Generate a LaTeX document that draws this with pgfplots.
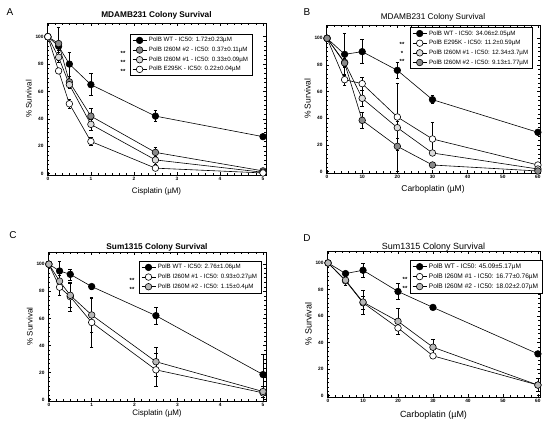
\documentclass[border=0pt]{standalone}
\usepackage{fontspec}
\setmainfont{Liberation Sans}
\usepackage{pgfplots}
\pgfplotsset{compat=1.18}
\definecolor{gA}{HTML}{8A8A8A}
\definecolor{lA}{HTML}{DCDCDC}
\definecolor{gC}{HTML}{B8B8B8}
\pgfplotsset{
  ser/.style={black, line width=0.6bp, mark=*, mark size=3.3bp,
      mark options={fill=#1, draw=black, line width=0.6bp, solid},
      error bars/.cd, y dir=both, y explicit,
      error mark options={rotate=90, mark size=1.8bp, line width=0.5bp, black},
      error bar style={line width=0.5bp, black}},
  panel/.style={
    scale only axis,
    anchor=south west,
    axis line style={line width=0.7bp},
    every tick/.style={black, line width=0.5bp},
    tick align=inside,
    major tick length=3bp, minor tick length=1.6bp,
    ytick={0,20,40,60,80,100},
    minor y tick num=5, minor x tick num=5,
    tick label style={font=\fontsize{4.8}{5.5}\selectfont\bfseries},
    xticklabel style={yshift=1bp},
    /pgf/number format/assume math mode=true,
    ylabel={\% Survival},
    label style={font=\fontsize{8}{9}\selectfont},
    xlabel style={yshift=0bp},
    ylabel style={yshift=-3bp},
    title style={font=\fontsize{8.3}{9}\selectfont, yshift=-6bp},
    legend cell align=left,
    legend style={font=\fontsize{6.2}{7}\selectfont, draw=black, line width=0.6bp,
      inner xsep=2bp, inner ysep=1.2bp, row sep=-0.3bp, anchor=north west},
    legend image code/.code={\draw[mark repeat=2,mark phase=2,##1] plot coordinates {(0bp,0bp) (7bp,0bp) (14bp,0bp)};},
  }
}
\begin{document}
\begin{tikzpicture}
\path[use as bounding box] (0,0) rectangle (550bp,426bp);
% ---------- A ----------
\begin{axis}[panel, at={(47bp,251bp)}, width=219bp, height=152bp,
  xmin=-0.02, xmax=5.07, ymin=-1, ymax=110, xtick={0,1,2,3,4,5},
  title={MDAMB231 Colony Survival}, xlabel={Cisplatin (µM)},
  title style={font=\fontsize{8.3}{9}\selectfont\bfseries},
  legend style={at={(0.379,0.928)}}]
\addplot[ser=black] coordinates {(0,100)+-(0,0) (0.25,93)+-(0,3) (0.5,80)+-(0,9) (1,65)+-(0,8) (2.5,42)+-(0,4) (5,27)+-(0,1)};
\addlegendentry{PolB WT - IC50: 1.72±0.23µM}
\addplot[ser=gA] coordinates {(0,100)+-(0,0) (0.25,95)+-(0,12) (0.5,67)+-(0,4) (1,42)+-(0,6) (2.5,15.5)+-(0,4) (5,2)+-(0,1)};
\addlegendentry{PolB I260M \#2 - IC50: 0.37±0.11µM}
\addplot[ser=lA] coordinates {(0,100)+-(0,0) (0.25,85)+-(0,4) (0.5,65)+-(0,3) (1,36)+-(0,4) (2.5,10)+-(0,3) (5,1)+-(0,0.5)};
\addlegendentry{PolB I260M \#1 - IC50: 0.33±0.09µM}
\addplot[ser=white] coordinates {(0,100)+-(0,0) (0.25,75)+-(0,2) (0.5,51)+-(0,3) (1,23.5)+-(0,3) (2.5,4)+-(0,1) (5,0.5)+-(0,0.5)};
\addlegendentry{PolB E295K - IC50: 0.22±0.04µM}
\end{axis}
% ---------- B ----------
\begin{axis}[panel, at={(326bp,253bp)}, width=214bp, height=148bp,
  xmin=-0.3, xmax=60.6, ymin=-1, ymax=110, xtick={0,10,20,30,40,50,60},
  minor x tick num=4,
  title={MDAMB231 Colony Survival}, xlabel={Carboplatin (µM)},
  label style={font=\fontsize{8.5}{9.5}\selectfont},
  legend style={at={(0.393,0.986)}}]
\addplot[ser=black] coordinates {(0,100)+-(0,0) (5,88)+-(0,16) (10,90)+-(0,9) (20,76)+-(0,6) (30,54)+-(0,3) (60,29.5)+-(0,1)};
\addlegendentry{PolB WT - IC50: 34.06±2.05µM}
\addplot[ser=white] coordinates {(0,100)+-(0,0) (5,69)+-(0,4) (10,66)+-(0,5) (20,41)+-(0,25) (30,24.5)+-(0,12.5) (60,5)+-(0,1)};
\addlegendentry{PolB E295K - IC50: 11.2±0.59µM}
\addplot[ser=lA] coordinates {(0,100)+-(0,0) (5,82)+-(0,3) (10,55)+-(0,6) (20,33)+-(0,8) (30,14)+-(0,2) (60,2)+-(0,1)};
\addlegendentry{PolB I260M \#1 - IC50: 12.34±3.7µM}
\addplot[ser=gA] coordinates {(0,100)+-(0,0) (5,81.5)+-(0,3) (10,38.5)+-(0,6) (20,19)+-(0,19) (30,5)+-(0,1) (60,0.5)+-(0,0.5)};
\addlegendentry{PolB I260M \#2 - IC50: 9.13±1.77µM}
\end{axis}
% ---------- C ----------
\begin{axis}[panel, at={(48bp,25bp)}, width=218bp, height=149bp,
  xmin=-0.02, xmax=5.07, ymin=-1, ymax=109, xtick={0,1,2,3,4,5},
  title={Sum1315 Colony Survival}, xlabel={Cisplatin (µM)},
  title style={font=\fontsize{8.3}{9}\selectfont\bfseries, yshift=-3bp},
  xlabel style={yshift=4bp},
  legend style={at={(0.417,0.94)}}]
\addplot[ser=black] coordinates {(0,100)+-(0,0) (0.25,95)+-(0,7) (0.5,92.5)+-(0,4) (1,83.5)+-(0,2) (2.5,62)+-(0,6) (5,18.5)+-(0,15)};
\addlegendentry{PolB WT - IC50: 2.76±1.06µM}
\addplot[ser=white] coordinates {(0,100)+-(0,0) (0.25,83)+-(0,6) (0.5,76)+-(0,11) (1,57)+-(0,18) (2.5,22)+-(0,12) (5,5)+-(0,2)};
\addlegendentry{PolB I260M \#1 - IC50: 0.93±0.27µM}
\addplot[ser=gC] coordinates {(0,100)+-(0,0) (0.25,87.5)+-(0,4) (0.5,77)+-(0,9) (1,62.5)+-(0,13) (2.5,28)+-(0,11) (5,6)+-(0,4)};
\addlegendentry{PolB I260M \#2 - IC50: 1.15±0.4µM}
\end{axis}
% ---------- D ----------
\begin{axis}[panel, at={(327bp,29bp)}, width=213bp, height=146bp,
  xmin=-0.3, xmax=60.6, ymin=-1, ymax=109, xtick={0,10,20,30,40,50,60},
  minor x tick num=4,
  title={Sum1315 Colony Survival}, xlabel={Carboplatin (µM)},
  title style={font=\fontsize{9}{10}\selectfont, yshift=-4bp},
  label style={font=\fontsize{9}{10}\selectfont},
  xlabel style={yshift=-1bp},
  legend style={at={(0.39,0.938)}, font=\fontsize{6.6}{7.5}\selectfont}]
\addplot[ser=black] coordinates {(0,100)+-(0,0) (5,92)+-(0,2) (10,94.5)+-(0,5) (20,78.5)+-(0,6) (30,66.5)+-(0,1) (60,31.5)+-(0,2)};
\addlegendentry{PolB WT - IC50: 45.09±5.17µM}
\addplot[ser=white] coordinates {(0,100)+-(0,0) (5,86.5)+-(0,2) (10,70)+-(0,5) (20,51)+-(0,5) (30,30)+-(0,1) (60,8)+-(0,2)};
\addlegendentry{PolB I260M \#1 - IC50: 16.77±0.76µM}
\addplot[ser=gC] coordinates {(0,100)+-(0,0) (5,87)+-(0,4) (10,70.5)+-(0,9) (20,56)+-(0,10) (30,36.5)+-(0,6) (60,8)+-(0,5)};
\addlegendentry{PolB I260M \#2 - IC50: 18.02±2.07µM}
\end{axis}
% panel letters and significance stars
\begin{scope}[every node/.style={font=\fontsize{10}{11}\selectfont}]
\node at (10bp,414bp) {A};
\node at (307bp,414bp) {B};
\node at (13bp,191bp) {C};
\node at (307bp,188bp) {D};
\end{scope}
\begin{scope}[every node/.style={font=\fontsize{6}{6}\selectfont\bfseries}]
\node at (123bp,373bp) {**};
\node at (123bp,364bp) {**};
\node at (123bp,355bp) {**};
\node at (402bp,382bp) {**};
\node at (402bp,373bp) {*};
\node at (402bp,365bp) {**};
\node at (132bp,146bp) {**};
\node at (132bp,137bp) {**};
\node at (405bp,147bp) {**};
\node at (405bp,138bp) {**};
\end{scope}
\end{tikzpicture}
\end{document}
